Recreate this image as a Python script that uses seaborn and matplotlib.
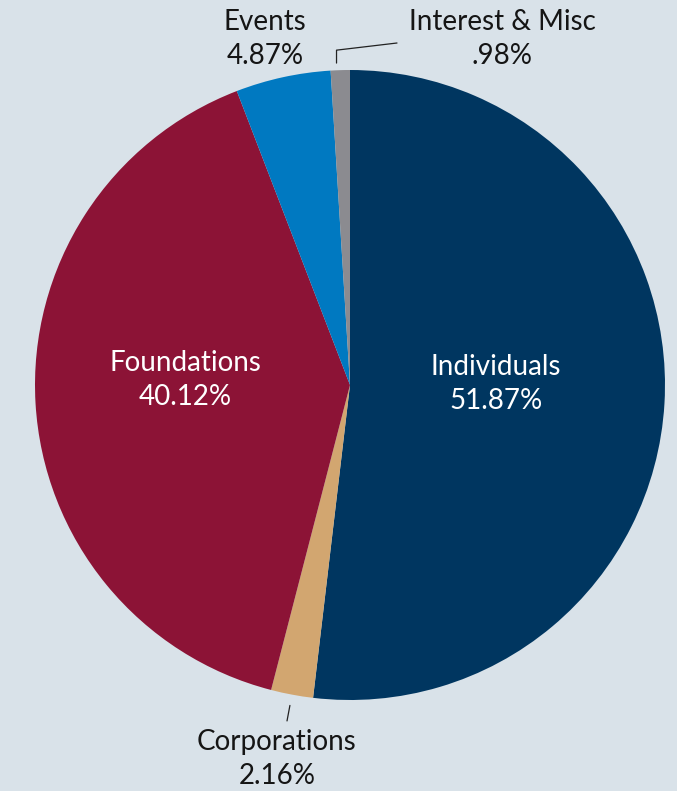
import matplotlib
matplotlib.use("Agg")
import matplotlib.pyplot as plt
import numpy as np
import seaborn as sns

# 数据
categories = ["Individuals", "Corporations", "Foundations", "Events", "Interest & Misc"]
shares = [51.87, 2.16, 40.12, 4.87, 0.98]
pct_labels = ["51.87%", "2.16%", "40.12%", "4.87%", ".98%"]
colors = ["#003660", "#d2a670", "#8c1336", "#0079c1", "#8b8b90"]

bg = "#d9e2e9"
sns.set_theme(style="white")
plt.rcParams['font.family'] = ['Lato', 'DejaVu Sans']

fig = plt.figure(figsize=(6.77, 7.91), dpi=100, facecolor=bg)
# 饼图中心 (350, 385) px，半径 315 px
W, H, R = 677, 791, 315
cx, cy = 350, 385
ax = fig.add_axes([(cx - R) / W, (H - cy - R) / H, 2 * R / W, 2 * R / H])
ax.set_facecolor(bg)

wedges, _ = ax.pie(shares, colors=colors, startangle=90, counterclock=False,
                   radius=1, wedgeprops={'linewidth': 0})
ax.set_xlim(-1, 1)
ax.set_ylim(-1, 1)
ax.axis('off')


def px(x, y):
    return (x - cx) / R, (cy - y) / R


# 标签位置 (像素)
label_pos = [(496, 384), (277, 759), (185, 380), (265, 39), (502, 39)]
label_colors = ["white", "#151515", "white", "#151515", "#151515"]
for name, pct, pos, c in zip(categories, pct_labels, label_pos, label_colors):
    x, y = px(*pos)
    ax.text(x, y, f"{name}\n{pct}", ha="center", va="center", fontsize=20,
            color=c, linespacing=1.35, clip_on=False, fontweight="normal")

# 引线
for i in (1, 4):
    w = wedges[i]
    ang = np.deg2rad((w.theta1 + w.theta2) / 2)
    if i == 1:
        r0, r1 = 1.035, 1.085
        ax.plot([r0 * np.cos(ang), r1 * np.cos(ang)], [r0 * np.sin(ang), r1 * np.sin(ang)],
                color="#222222", lw=0.9, clip_on=False)
    else:
        x0 = np.cos(ang) - 0.012
        ex, ey = px(397, 43)
        ax.plot([x0, x0, ex], [1.022, 1.063, ey], color="#222222", lw=0.9, clip_on=False)

fig.savefig("out.png", dpi=100, facecolor=bg)
